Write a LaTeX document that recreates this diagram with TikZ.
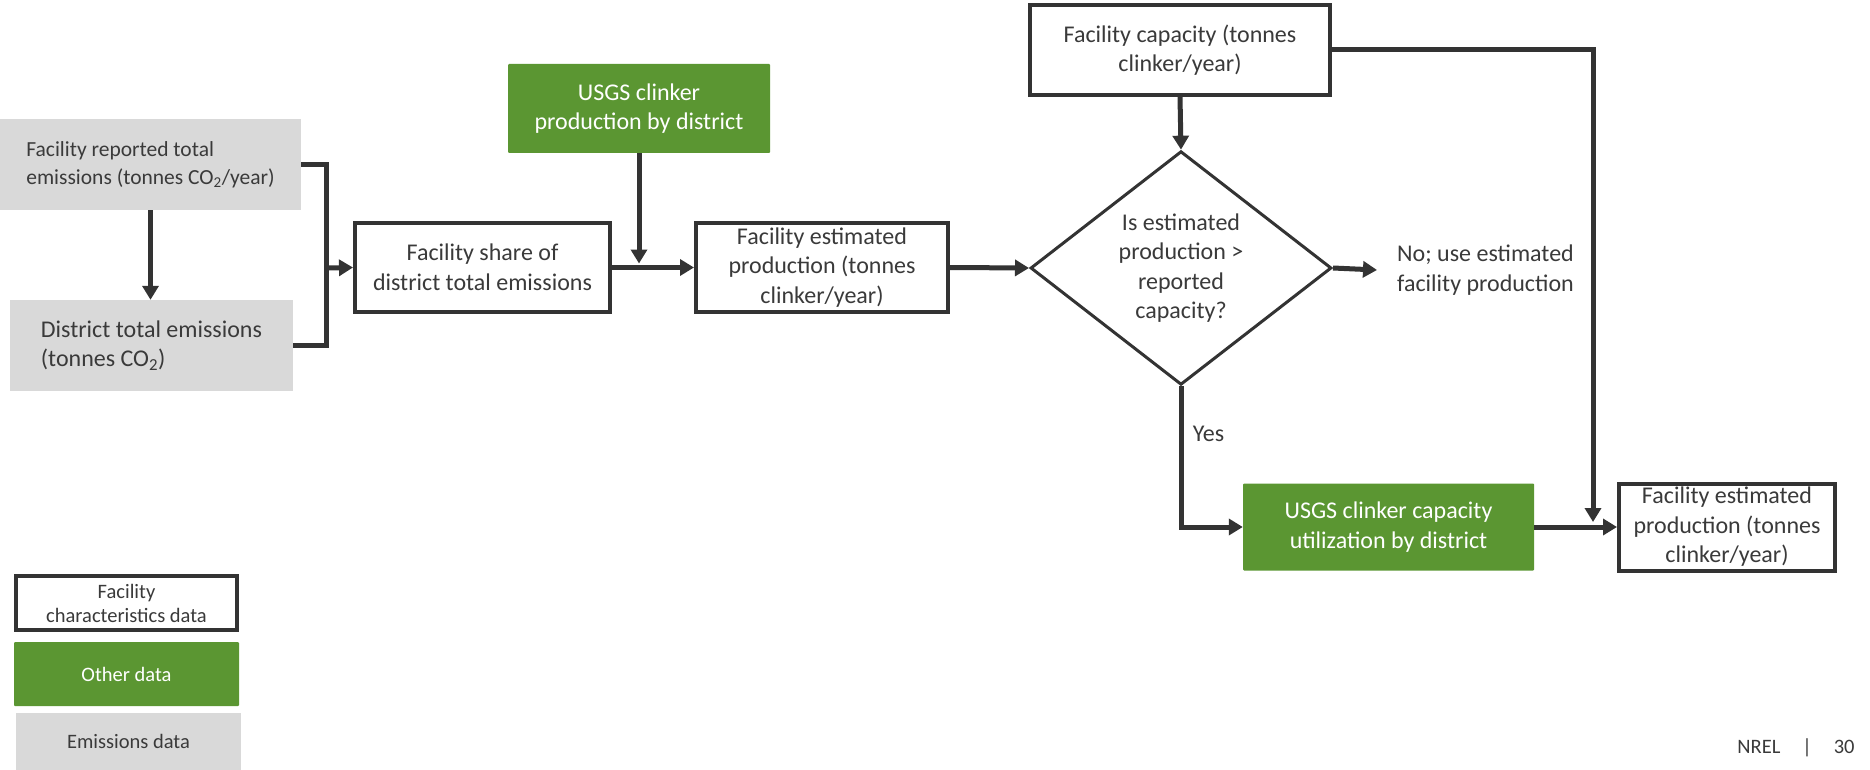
\documentclass[tikz,border=0pt]{standalone}
\usepackage{fontspec}
\setmainfont{Carlito}
\usetikzlibrary{arrows.meta,positioning,shapes.geometric}
\definecolor{nrgreen}{HTML}{5B9632}
\definecolor{nrgrey}{HTML}{D9D9D9}
\definecolor{nrline}{HTML}{333333}
\definecolor{nrtext}{HTML}{3A3A3A}
\newcommand{\mainsz}{\fontsize{24}{29.5}\selectfont}
\newcommand{\repsz}{\fontsize{21.5}{28}\selectfont}
\newcommand{\legsz}{\fontsize{20.5}{24}\selectfont}
\tikzset{
  facbox/.style={draw=nrline, line width=4pt, fill=white, align=center,
                 text=nrtext, font=\mainsz, inner sep=0pt},
  othbox/.style={fill=nrgreen, rounded corners=1pt, align=center,
                 text=white, font=\mainsz, inner sep=0pt},
  emibox/.style={fill=nrgrey, align=left, text=nrtext, font=\mainsz, inner sep=0pt},
  arr/.style={-{Triangle[length=14pt,width=16pt]}, line width=5pt, color=nrline},
  wire/.style={line width=5pt, color=nrline}}

\begin{document}
\begin{tikzpicture}[x=1pt, y=-1pt]
    \useasboundingbox (0,0) rectangle (1870,770);
    % emissions inputs
    \node[emibox, minimum width=301pt, minimum height=91pt, font=\repsz] (rep) at (150.5,164.5)
      {Facility reported total\\emissions (tonnes CO\textsubscript{2}/year)};
    \node[emibox, minimum width=283pt, minimum height=91pt] (dist) at (151.5,345.5)
      {District total emissions\\(tonnes CO\textsubscript{2})};
    % main chain
    \node[facbox, minimum width=255pt, minimum height=89pt] (share) at (482.5,267.5)
      {Facility share of\\district total emissions};
    \node[othbox, minimum width=262pt, minimum height=89pt] (usgsprod) at (639,108.5)
      {USGS clinker\\production by district};
    \node[facbox, minimum width=252pt, minimum height=89pt] (est) at (822,267.5)
      {Facility estimated\\production (tonnes\\clinker/year)};
    \node[facbox, minimum width=300pt, minimum height=90pt] (cap) at (1180,50)
      {Facility capacity (tonnes\\clinker/year)};
    \node[facbox, line width=3pt, diamond, minimum width=301pt, minimum height=231pt] (check) at (1181,268)
      {Is estimated\\production >\\reported\\capacity?};
    \node[text=nrtext, font=\mainsz, align=left, anchor=west, inner xsep=20pt] (noout) at (1377,270)
      {No; use estimated\\facility production};
    \node[othbox, minimum width=291pt, minimum height=87pt] (usgsutil) at (1388.5,527)
      {USGS clinker capacity\\utilization by district};
    \node[facbox, minimum width=216pt, minimum height=87pt] (final) at (1727,527)
      {Facility estimated\\production (tonnes\\clinker/year)};
    % legend
    \node[facbox, minimum width=221pt, minimum height=54pt, font=\legsz] (legfac) at (126.5,603)
      {Facility\\characteristics data};
    \node[othbox, minimum width=225pt, minimum height=64pt, font=\legsz] (legoth) at (126.5,674)
      {Other data};
    \node[emibox, align=center, minimum width=225pt, minimum height=57pt, font=\legsz] (legemi) at (128.5,741.5)
      {Emissions data};
    \node[text=nrtext, font=\legsz] (pagenum) at (1796,748) {NREL\hspace{22pt}|\hspace{22pt}30};
    % connectors
    \coordinate (emjoin) at (326,268);
    \coordinate (capdrop) at (1593,522);
    \draw[arr] (rep.south) -- (rep.south |- dist.north);
    \draw[wire] (rep.east) -| (emjoin);
    \draw[wire] (dist.east) -| (emjoin);
    \draw[arr] (emjoin) -- (share.west);
    \draw[arr] (share.east) -- (est.west);
    \draw[arr, shorten >=4pt] (usgsprod.south) -- (usgsprod.south |- share.east);
    \draw[arr] (est.east) -- (check.west);
    \draw[arr] (cap.south) -- (check.north);
    \draw[arr] (check.east) -- (noout.west);
    \draw[arr] (check.south) |- (usgsutil.west)
      node[pos=0.17, right=6pt, text=nrtext, font=\mainsz] (yeslbl) {Yes};
    \draw[arr] (usgsutil.east) -- (final.west);
    \draw[arr] (cap.east) -| (capdrop);
  \end{tikzpicture}
\end{document}
